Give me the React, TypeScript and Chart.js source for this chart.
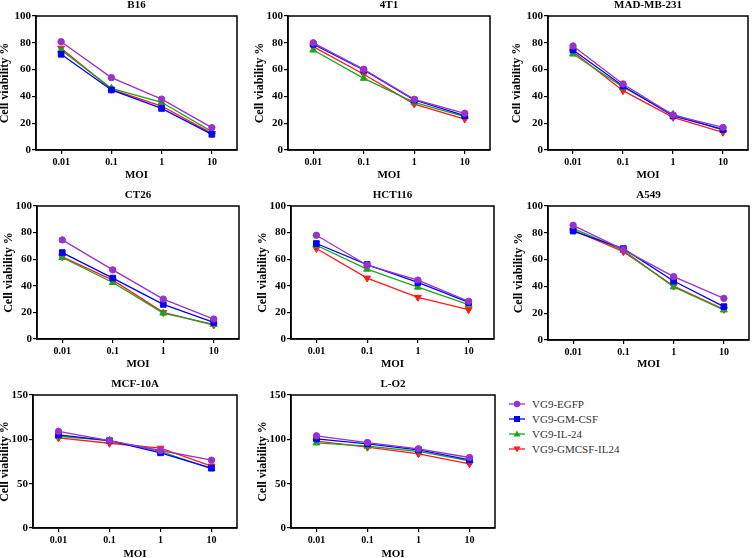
import React, { useEffect, useRef } from "react";
import { Chart, registerables } from "chart.js";
Chart.register(...registerables);

// ---------- data ----------
const moiLabels = ["0.01", "0.1", "1", "10"];
const seriesNames = ["VG9-EGFP", "VG9-GM-CSF", "VG9-IL-24", "VG9-GMCSF-IL24"];
const seriesColors = ["#9932CC", "#0000FF", "#1FA31F", "#FF1A1A"];
const pointStyles = ["circle", "rect", "triangle", "triangle"];
const pointRotations = [0, 0, 0, 180];
const pointRadii = [3.2, 4, 4, 4];

const cellLines = ["B16", "4T1", "MAD-MB-231", "CT26", "HCT116", "A549", "MCF-10A", "L-O2"];

// rows: EGFP, GM-CSF, IL-24, GMCSF-IL24
const b16 = [
  [80.8, 54, 38, 16.7],
  [71.4, 44.8, 31, 11.7],
  [74.6, 46, 35.6, 13.7],
  [76, 45.3, 32.8, 12.4],
];
const t41 = [
  [80, 60.2, 37.8, 27.4],
  [78.9, 59.7, 37.3, 25.6],
  [74.6, 53.5, 35.6, 24.9],
  [77.1, 56.5, 34.3, 23.1],
];
const mdamb231 = [
  [77.6, 49.3, 26.1, 16.9],
  [74.6, 47.8, 25.4, 15.4],
  [71.6, 46.8, 26.6, 14.9],
  [73.4, 44.3, 24.4, 13.2],
];
const ct26 = [
  [74.5, 52, 30, 15],
  [65, 45.8, 26, 12.5],
  [61.3, 42.5, 19.5, 11],
  [61.8, 44.3, 20, 10.5],
];
const hct116 = [
  [78, 55.5, 44.3, 28.3],
  [71.8, 56, 42.5, 27.5],
  [70.5, 52.5, 39, 25.8],
  [68, 45.8, 31.3, 22],
];
const a549 = [
  [85.6, 67.4, 47.3, 31.1],
  [81.3, 68.2, 44, 24.9],
  [83.3, 66.9, 39.6, 22.4],
  [82, 65.9, 40.3, 22.9],
];
const mcf10a = [
  [109, 98.6, 87.4, 76.5],
  [105, 98.6, 84.8, 67.5],
  [103.5, 98.6, 86.3, 66.8],
  [101.6, 95.6, 90, 69.8],
];
const lo2 = [
  [104, 96.4, 89.3, 79.5],
  [100.5, 94.9, 88.1, 76.9],
  [96, 92.3, 86.3, 75.8],
  [97.9, 91.1, 83.6, 72.4],
];
const panelValues = [b16, t41, mdamb231, ct26, hct116, a549, mcf10a, lo2];
const yMaxes = [100, 100, 100, 100, 100, 100, 150, 150];
const ySteps = [20, 20, 20, 20, 20, 20, 50, 50];

// ---------- layout ----------
type Geo = { plotL: number; plotR: number; plotT: number; plotB: number; titleY: number; moiY: number; gap: number };
const geos: Geo[] = [
  { plotL: 36, plotR: 239, plotT: 16, plotB: 150, titleY: 5, moiY: 175, gap: 31 },
  { plotL: 288, plotR: 492, plotT: 16, plotB: 150, titleY: 5, moiY: 175, gap: 28 },
  { plotL: 548, plotR: 750, plotT: 16, plotB: 150, titleY: 5, moiY: 175, gap: 31 },
  { plotL: 37, plotR: 241, plotT: 206, plotB: 339, titleY: 195, moiY: 364, gap: 28 },
  { plotL: 291, plotR: 496, plotT: 206, plotB: 339, titleY: 195, moiY: 364, gap: 28 },
  { plotL: 548, plotR: 751, plotT: 206, plotB: 340, titleY: 195, moiY: 364, gap: 29 },
  { plotL: 33, plotR: 239, plotT: 395, plotB: 528, titleY: 384, moiY: 554, gap: 28 },
  { plotL: 291, plotR: 497, plotT: 395, plotB: 528, titleY: 384, moiY: 554, gap: 28 },
];

const FONT = "'Liberation Serif', 'Times New Roman', serif";

const framePlugin = {
  id: "frame",
  afterDraw(chart: any) {
    const { ctx, chartArea } = chart;
    const { left, top, right, bottom } = chartArea;
    ctx.save();
    ctx.strokeStyle = "#000";
    ctx.lineWidth = 1.5;
    ctx.strokeRect(left, top, right - left, bottom - top);
    ctx.restore();
  },
};

function Panel({ idx }: { idx: number }) {
  const ref = useRef<HTMLCanvasElement>(null);
  const g = geos[idx];
  const YW = 36;
  const left = g.plotL - YW;
  const width = g.plotR + 3 - left;
  const top = g.titleY - 6;
  const bottom = g.moiY + 6;
  const height = bottom - top;

  useEffect(() => {
    const canvas = ref.current!;
    const values = panelValues[idx];
    const chart = new Chart(canvas, {
      type: "line",
      data: {
        labels: moiLabels,
        datasets: seriesNames.map((name, i) => ({
          label: name,
          data: values[i],
          borderColor: seriesColors[i],
          backgroundColor: seriesColors[i],
          pointBackgroundColor: seriesColors[i],
          pointBorderColor: seriesColors[i],
          pointStyle: pointStyles[i] as any,
          rotation: pointRotations[i],
          pointRadius: pointRadii[i],
          pointBorderWidth: 1,
          borderWidth: 1.3,
          tension: 0,
        })),
      },
      options: {
        responsive: false,
        animation: false,
        events: [],
        layout: { padding: { left: 0, right: 3, top: 0, bottom: 0 } },
        plugins: {
          legend: { display: false },
          tooltip: { enabled: false },
          title: {
            display: true,
            text: cellLines[idx],
            fullSize: false,
            color: "#000",
            font: { family: FONT, size: 11, weight: "bold", lineHeight: 1 },
            padding: { top: 0.5, bottom: g.plotT - top - 11 - 0.5 },
          },
        },
        scales: {
          x: {
            type: "category",
            offset: true,
            grid: {
              display: true,
              offset: false,
              drawOnChartArea: false,
              drawTicks: true,
              tickLength: 4,
              color: "#000",
              lineWidth: 1.2,
            },
            border: { display: true, color: "#000", width: 1.5 },
            ticks: {
              color: "#000",
              padding: 2,
              maxRotation: 0,
              font: { family: FONT, size: 10, weight: "bold" },
            },
            title: {
              display: true,
              text: "MOI",
              color: "#000",
              font: { family: FONT, size: 11, weight: "bold", lineHeight: 1 },
              padding: { top: 0, bottom: 0.5 },
            },
            afterFit: (s: any) => {
              s.height = bottom - g.plotB;
            },
          },
          y: {
            type: "linear",
            min: 0,
            max: yMaxes[idx],
            grid: {
              display: true,
              drawOnChartArea: false,
              drawTicks: true,
              tickLength: 4,
              color: "#000",
              lineWidth: 1.2,
            },
            border: { display: true, color: "#000", width: 1.5 },
            ticks: {
              stepSize: ySteps[idx],
              color: "#000",
              padding: 1,
              font: { family: FONT, size: 11, weight: "bold" },
            },
            title: {
              display: true,
              text: "Cell viability %",
              color: "#000",
              font: { family: FONT, size: 12, weight: "bold", lineHeight: 1 },
              padding: { top: 30 - g.gap, bottom: 0 },
            },
            afterFit: (s: any) => {
              s.width = YW;
            },
          },
        },
      },
      plugins: [framePlugin],
    });
    return () => chart.destroy();
  }, [idx]);

  return (
    <canvas
      ref={ref}
      width={width}
      height={height}
      style={{ position: "absolute", left, top, width, height }}
    />
  );
}

function LegendMark({ i }: { i: number }) {
  const c = seriesColors[i];
  let shape: React.ReactNode;
  if (i === 0) shape = <circle cx={8} cy={7} r={3.2} fill={c} />;
  else if (i === 1) shape = <rect x={5} y={4} width={6} height={6} fill={c} />;
  else if (i === 2) shape = <polygon points="8,3.5 11.5,9.5 4.5,9.5" fill={c} />;
  else shape = <polygon points="8,10.5 11.5,4.5 4.5,4.5" fill={c} />;
  return (
    <svg width={16} height={14} style={{ position: "absolute", left: 0, top: 0 }}>
      <line x1={0} y1={7} x2={16} y2={7} stroke={c} strokeWidth={1.3} />
      {shape}
    </svg>
  );
}

export default function App() {
  const legendRows = [404, 419, 434, 449];
  return (
    <div
      style={{
        position: "absolute",
        left: 0,
        top: 0,
        width: 753,
        height: 558,
        overflow: "hidden",
        background: "#fff",
      }}
    >
      {geos.map((_, i) => (
        <Panel key={i} idx={i} />
      ))}
      {seriesNames.map((name, i) => (
        <div
          key={name}
          style={{ position: "absolute", left: 509, top: legendRows[i] - 7, height: 14, width: 220 }}
        >
          <LegendMark i={i} />
          <span
            style={{
              position: "absolute",
              left: 23,
              top: 0,
              lineHeight: "14px",
              fontFamily: FONT,
              fontSize: 11,
              color: "#333",
              whiteSpace: "nowrap",
            }}
          >
            {name}
          </span>
        </div>
      ))}
    </div>
  );
}
